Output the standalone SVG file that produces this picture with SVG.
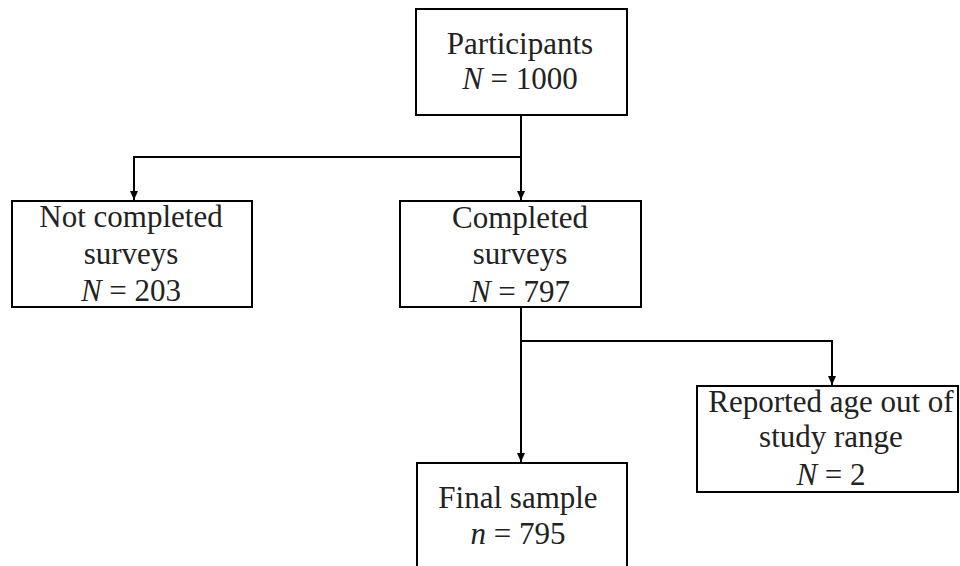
<svg xmlns="http://www.w3.org/2000/svg" width="960" height="566" viewBox="0 0 960 566">
<defs>
<marker id="arr" markerWidth="10" markerHeight="10" refX="9" refY="5" orient="auto" markerUnits="userSpaceOnUse">
<path d="M0,1 L9,5 L0,9 Z" fill="#000"/>
</marker>
<style>
.box{fill:#fff;stroke:#000;stroke-width:2}
.t{font-family:"Liberation Serif","Times New Roman",serif;font-size:31px;fill:#222;text-anchor:middle}
.i{font-style:italic}
.c{fill:none;stroke:#000;stroke-width:2}
</style>
</defs>
<rect x="0" y="0" width="960" height="566" fill="#fff"/>
<g id="connectors">
<path class="c" d="M521,115 V200" marker-end="url(#arr)"/>
<path class="c" d="M521,157 H134 V200" marker-end="url(#arr)"/>
<path class="c" d="M521,307 V462" marker-end="url(#arr)"/>
<path class="c" d="M521,341 H832 V385" marker-end="url(#arr)"/>
</g>
<g id="participants">
<rect class="box" x="416" y="9" width="211" height="106"/>
<text class="t" x="520" y="54">Participants</text>
<text class="t" x="520" y="89"><tspan class="i">N</tspan> = 1000</text>
</g>
<g id="not-completed">
<rect class="box" x="12" y="201" width="240" height="106"/>
<text class="t" x="131" y="227">Not completed</text>
<text class="t" x="131" y="264">surveys</text>
<text class="t" x="131" y="301"><tspan class="i">N</tspan> = 203</text>
</g>
<g id="completed">
<rect class="box" x="400" y="201" width="241" height="106"/>
<text class="t" x="520" y="228">Completed</text>
<text class="t" x="520" y="264">surveys</text>
<text class="t" x="520" y="302"><tspan class="i">N</tspan> = 797</text>
</g>
<g id="age-out">
<rect class="box" x="697" y="386" width="261" height="106"/>
<text class="t" x="831" y="412">Reported age out of</text>
<text class="t" x="831" y="447">study range</text>
<text class="t" x="831" y="485"><tspan class="i">N</tspan> = 2</text>
</g>
<g id="final">
<rect class="box" x="417" y="463" width="210" height="120"/>
<text class="t" x="518" y="508">Final sample</text>
<text class="t" x="518" y="544"><tspan class="i">n</tspan> = 795</text>
</g>
</svg>
